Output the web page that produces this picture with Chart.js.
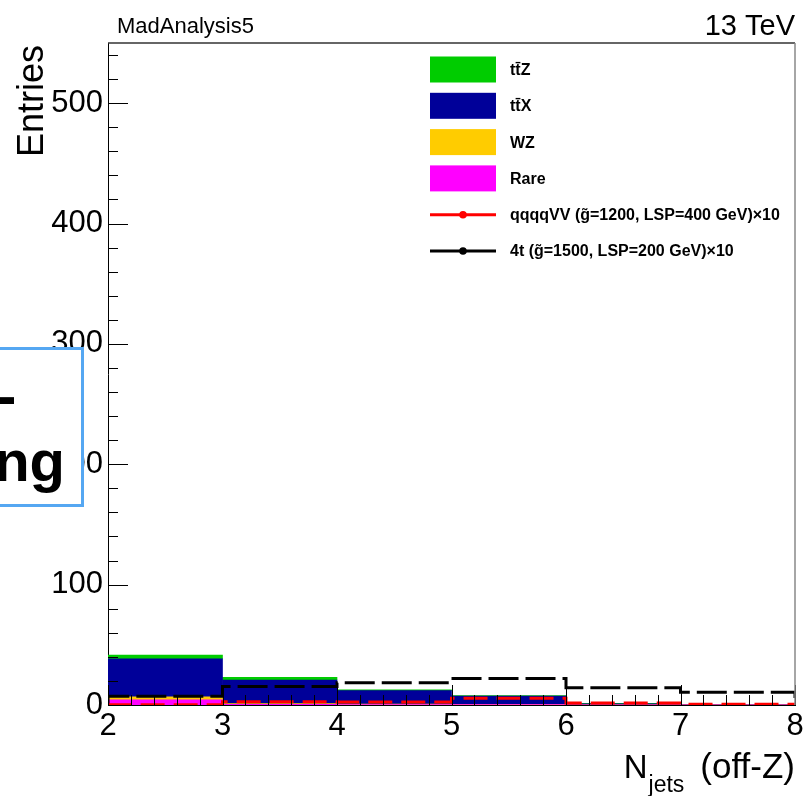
<!DOCTYPE html>
<html>
<head>
<meta charset="utf-8">
<script src="https://cdn.jsdelivr.net/npm/chart.js@4.4.1/dist/chart.umd.min.js"></script>
<style>
  html, body { margin: 0; padding: 0; background: #fff; }
  #wrap { position: relative; width: 804px; height: 796px; overflow: hidden; }
  #c { position: absolute; left: 0; top: 0; }
  #note { position: absolute; left: -20px; top: 347px; width: 98px; height: 154px;
          border: 3px solid #55a7f2; background: #fff; }
  .big { position: absolute; font: bold 58px "Liberation Sans", Arial, sans-serif;
         line-height: 58px; color: #000; white-space: nowrap; }
  #dash { left: -3px; top: 367px; }
  #ng { right: 739px; top: 432px; }
</style>
</head>
<body>
<div id="wrap">
  <canvas id="c" width="804" height="796"></canvas>
  <div id="note"></div>
  <span class="big" id="dash">-</span>
  <span class="big" id="ng">ng</span>
</div>
<script>
// N_jets bin edges (off-Z region)
const binEdges = [2, 3, 4, 5, 6, 7, 8];

// Stacked backgrounds, bottom to top
const rare = [4.2, 0.5, 0.4, 0.3, 0.1, 0.05];
const wz   = [2.5, 0.7, 0.4, 0.3, 0.1, 0.05];
const ttX  = [31.6, 19.6, 11.1, 6.9, 0.8, 0.3];
const ttZ  = [3.2, 2.2, 0.6, 0.4, 0.3, 0.1];

// Signal hypotheses (scaled x10)
const qqqqVV = [0.3, 2.8, 2.5, 5.6, 1.6, 0.6];
const fourTop = [7.2, 15.3, 18.5, 22.0, 14.4, 10.6];

// Axis labels
const xTickValues = [2, 3, 4, 5, 6, 7, 8];
const yTickValues = [0, 100, 200, 300, 400, 500];

const names = {
  ttZ: 'tt\u0304Z',
  ttX: 'tt\u0304X',
  wz: 'WZ',
  rare: 'Rare',
  qqqqVV: 'qqqqVV (g\u0303=1200, LSP=400 GeV)\u00d710',
  fourTop: '4t (g\u0303=1500, LSP=200 GeV)\u00d710'
};

const colors = {
  ttZ: '#00cc00',
  ttX: '#000099',
  wz: '#ffcc00',
  rare: '#ff00ff',
  qqqqVV: '#ff0000',
  fourTop: '#000000'
};

const FONT = '"Liberation Sans", Arial, sans-serif';

function barPoints(vals) {
  return vals.map((v, i) => ({ x: (binEdges[i] + binEdges[i + 1]) / 2, y: v }));
}

// Step-histogram outline: rises from zero at the first edge, drops to zero at the last
function stepPoints(vals) {
  const pts = [{ x: binEdges[0], y: 0 }];
  vals.forEach((v, i) => {
    pts.push({ x: binEdges[i], y: v });
    pts.push({ x: binEdges[i + 1], y: v });
  });
  pts.push({ x: binEdges[binEdges.length - 1], y: 0 });
  return pts;
}

function barSet(key, vals) {
  return {
    type: 'bar', label: names[key], data: barPoints(vals),
    backgroundColor: colors[key], borderWidth: 0,
    barPercentage: 1, categoryPercentage: 1,
    stack: 'bkg', yAxisID: 'y', order: 2
  };
}

function lineSet(key, vals, dash) {
  return {
    type: 'line', label: names[key], data: stepPoints(vals),
    borderColor: colors[key], borderWidth: 3, borderDash: dash,
    pointRadius: 0, fill: false, tension: 0,
    yAxisID: 'yLine', order: key === 'qqqqVV' ? 0 : 1
  };
}

const legendItems = [
  { key: 'ttZ', kind: 'box' },
  { key: 'ttX', kind: 'box' },
  { key: 'wz', kind: 'box' },
  { key: 'rare', kind: 'box' },
  { key: 'qqqqVV', kind: 'line' },
  { key: 'fourTop', kind: 'line' }
];

const decor = {
  id: 'decor',
  afterDatasetsDraw(chart) {
    const { ctx, chartArea: a, scales } = chart;
    const x = scales.x, y = scales.y;
    ctx.save();
    // axis tick marks, drawn inward
    ctx.strokeStyle = '#000';
    ctx.lineWidth = 1;
    ctx.beginPath();
    for (let v = 0; v <= y.max; v += 20) {
      const py = Math.round(y.getPixelForValue(v)) + 0.5;
      const len = v % 100 === 0 ? 20 : 10;
      ctx.moveTo(a.left, py);
      ctx.lineTo(a.left + len, py);
    }
    for (let i = 0; i <= 30; i++) {
      const v = x.min + i * 0.2;
      const px = Math.round(x.getPixelForValue(v)) + 0.5;
      const len = i % 5 === 0 ? 20 : 10;
      ctx.moveTo(px, a.bottom);
      ctx.lineTo(px, a.bottom - len);
    }
    ctx.stroke();
    // frame: top and right
    ctx.lineWidth = 1.5;
    ctx.strokeStyle = '#333';
    ctx.beginPath();
    ctx.moveTo(a.left, a.top);
    ctx.lineTo(a.right, a.top);
    ctx.stroke();
    ctx.strokeStyle = '#888';
    ctx.beginPath();
    ctx.moveTo(a.right, a.top);
    ctx.lineTo(a.right, a.bottom);
    ctx.stroke();
    ctx.restore();
  },
  afterDraw(chart) {
    const { ctx, chartArea: a } = chart;
    ctx.save();
    ctx.fillStyle = '#000';
    ctx.textBaseline = 'alphabetic';

    // header
    ctx.font = '22px ' + FONT;
    ctx.textAlign = 'left';
    ctx.fillText('MadAnalysis5', 117, 33);
    ctx.font = '29px ' + FONT;
    ctx.textAlign = 'right';
    ctx.fillText('13 TeV', a.right, 35);

    // y title
    ctx.save();
    ctx.translate(43, a.top + 2);
    ctx.rotate(-Math.PI / 2);
    ctx.font = '36px ' + FONT;
    ctx.textAlign = 'right';
    ctx.fillText('Entries', 0, 0);
    ctx.restore();

    // x title with subscript
    ctx.textAlign = 'left';
    ctx.font = '35px ' + FONT;
    const tail = '(off-Z)';
    const wTail = ctx.measureText(tail).width;
    ctx.font = '33px ' + FONT;
    const wN = ctx.measureText('N').width;
    ctx.font = '23px ' + FONT;
    const wSub = ctx.measureText('jets').width;
    const xTail = a.right - wTail;
    const xSub = xTail - 16 - wSub;
    const xN = xSub - 1 - wN;
    ctx.font = '33px ' + FONT;
    ctx.fillText('N', xN, 778);
    ctx.font = '35px ' + FONT;
    ctx.fillText(tail, xTail, 778);
    ctx.font = '23px ' + FONT;
    ctx.fillText('jets', xSub, 792);

    // legend
    const lx = 430, lw = 66, bh = 26, tx = 510;
    let cy = 69.5;
    ctx.font = 'bold 16px ' + FONT;
    ctx.textBaseline = 'middle';
    legendItems.forEach(item => {
      const col = colors[item.key];
      if (item.kind === 'box') {
        ctx.fillStyle = col;
        ctx.fillRect(lx, cy - bh / 2, lw, bh);
      } else {
        ctx.strokeStyle = col;
        ctx.lineWidth = 3;
        ctx.beginPath();
        ctx.moveTo(lx, cy);
        ctx.lineTo(lx + lw, cy);
        ctx.stroke();
        ctx.fillStyle = col;
        ctx.beginPath();
        ctx.arc(lx + lw / 2, cy, 3.8, 0, Math.PI * 2);
        ctx.fill();
      }
      ctx.fillStyle = '#000';
      ctx.fillText(names[item.key], tx, cy + 1);
      cy += 36.3;
    });
    ctx.restore();
  }
};

new Chart(document.getElementById('c'), {
  data: {
    datasets: [
      lineSet('qqqqVV', qqqqVV, [24, 9]),
      lineSet('fourTop', fourTop, [30, 7]),
      barSet('rare', rare),
      barSet('wz', wz),
      barSet('ttX', ttX),
      barSet('ttZ', ttZ)
    ]
  },
  options: {
    responsive: false,
    animation: false,
    devicePixelRatio: 1,
    layout: { padding: { top: 43, right: 9, left: 0, bottom: 0 } },
    plugins: { legend: { display: false }, tooltip: { enabled: false } },
    scales: {
      x: {
        type: 'linear', min: binEdges[0], max: binEdges[binEdges.length - 1],
        stacked: true, offset: false,
        grid: { display: false, drawTicks: false, offset: false },
        border: { display: true, color: '#000', width: 1 },
        afterBuildTicks: s => { s.ticks = xTickValues.map(v => ({ value: v })); },
        ticks: { font: { family: FONT, size: 31 }, color: '#000', padding: 3,
                 maxRotation: 0, autoSkip: false },
        afterFit: s => { s.height = 91; s.paddingLeft = 0; s.paddingRight = 0; }
      },
      y: {
        type: 'linear', min: 0, max: 550, stacked: true,
        grid: { display: false, drawTicks: false },
        border: { display: true, color: '#000', width: 1 },
        afterBuildTicks: s => { s.ticks = yTickValues.map(v => ({ value: v })); },
        ticks: { font: { family: FONT, size: 31 }, color: '#000', padding: 5 },
        afterFit: s => { s.width = 108; s.paddingTop = 0; s.paddingBottom = 0; }
      },
      yLine: {
        type: 'linear', min: 0, max: 550, display: false, stacked: false
      }
    }
  },
  plugins: [decor]
});
</script>
</body>
</html>
